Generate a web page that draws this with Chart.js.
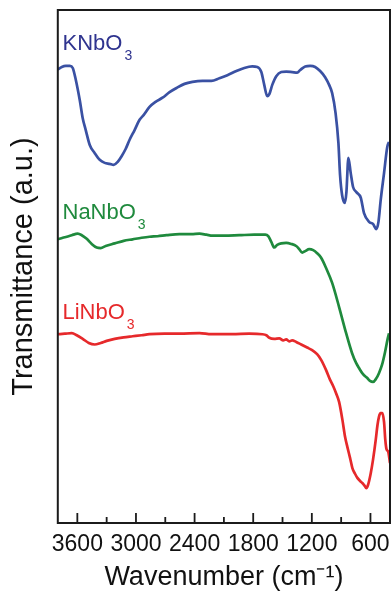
<!DOCTYPE html>
<html>
<head>
<meta charset="utf-8">
<script src="https://cdn.jsdelivr.net/npm/chart.js@4.4.1/dist/chart.umd.min.js"></script>
<style>
  html, body { margin: 0; padding: 0; background: #ffffff; }
  #wrap { width: 392px; height: 595px; }
</style>
</head>
<body>
<div id="wrap"><canvas id="c" width="392" height="595"></canvas></div>
<script>
// ---- Data (wavenumber in cm^-1, transmittance in a.u.) ----
const knbo3Wavenumber = [3800,3759,3718,3677,3647,3616,3575,3545,3514,3473,3422,3371,3320,3269,3228,3187,3147,3106,3065,3014,2963,2922,2861,2799,2728,2656,2585,2503,2422,2319,2228,2146,2064,1972,1891,1809,1758,1717,1687,1656,1635,1605,1564,1513,1462,1401,1350,1319,1268,1217,1166,1115,1064,1023,992,957,928,911,890,863,846,826,802,778,744,699,666,614,574,540,518,495,461,428,410];
const knbo3Transmittance = [88.4,88.9,89.1,89.1,88.7,86.4,82.4,78.9,76.6,73.7,72.1,70.8,70.2,70.0,69.8,70.4,71.5,72.9,74.7,76.6,78.6,79.5,81.1,82.1,82.9,84.0,84.8,85.6,86.0,86.2,86.2,86.7,87.3,88.1,88.7,89.0,88.9,87.9,85.4,83.2,83.6,85.4,87.1,87.9,88.0,87.9,87.8,88.3,89.0,89.1,88.9,88.1,86.9,85.4,83.8,79.9,74.1,67.8,63.9,62.4,64.5,71.2,68.2,65.5,64.5,63.4,60.4,58.7,58.3,57.3,58.7,63.0,68.2,73.3,74.3];

const nanbo3Wavenumber = [3800,3749,3708,3657,3596,3555,3504,3453,3402,3361,3310,3218,3126,3034,2942,2861,2779,2687,2554,2432,2350,2279,2217,2095,1942,1789,1676,1646,1615,1585,1554,1513,1462,1411,1360,1329,1299,1268,1227,1186,1146,1105,1054,992,921,849,788,747,717,676,635,605,574,543,513,482,451,426,410];
const nanbo3Transmittance = [55.3,55.6,55.8,56.1,56.4,56.1,55.4,54.4,53.7,53.6,54.0,54.5,55.0,55.3,55.6,55.8,55.9,56.1,56.3,56.3,56.4,56.2,56.0,56.0,56.1,56.2,56.2,55.9,54.8,53.7,54.2,54.5,54.6,54.4,54.0,53.4,52.7,53.0,53.4,53.2,52.6,51.7,49.7,46.8,42.1,37.0,33.1,31.2,30.2,29.0,28.3,27.7,27.5,28.1,29.2,30.8,33.3,35.7,37.0];

const linbo3Wavenumber = [3800,3728,3657,3606,3545,3483,3422,3361,3300,3218,3126,3034,2942,2861,2708,2554,2350,2228,2013,1840,1707,1666,1635,1585,1533,1493,1462,1431,1401,1360,1309,1248,1197,1146,1105,1054,1013,982,952,921,887,860,836,809,785,758,734,706,683,661,642,625,597,574,546,528,513,497,479,461,448,436,418,400];
const linbo3Transmittance = [36.8,36.9,37.0,36.6,35.9,35.1,34.8,35.1,35.5,35.9,36.2,36.4,36.6,36.8,36.9,36.9,37.0,36.8,36.8,36.9,36.8,36.6,36.1,35.9,36.0,35.6,35.8,35.4,35.6,35.3,34.8,34.2,33.7,32.9,31.8,29.8,27.9,26.7,25.3,23.6,20.1,16.8,14.8,12.7,10.7,9.6,8.8,8.2,7.8,7.3,6.8,7.4,9.7,12.3,16.2,19.1,20.7,21.4,21.4,19.7,16.2,14.4,13.9,11.7];

const seriesNames = ['KNbO', 'NaNbO', 'LiNbO'];
const seriesSubscripts = ['3', '3', '3'];
const majorTicks = [3600, 3000, 2400, 1800, 1200, 600];
const minorTicks = [3300, 2700, 2100, 1500, 900];

// ---- Styling ----
const FONT = '"Liberation Sans", Arial, Helvetica, sans-serif';
const lineColors = ['#3a51a3', '#1f8a3d', '#e6292b'];
const textColors = ['#2f348f', '#1f8a3d', '#e6292b'];
// label anchors: [wavenumber, transmittance baseline]
const labelAnchors = [[3752, 92.2], [3752, 59.3], [3752, 39.8]];

function toPoints(xs, ys) { return xs.map((x, i) => ({ x: x, y: ys[i] })); }

const datasets = [
  toPoints(knbo3Wavenumber, knbo3Transmittance),
  toPoints(nanbo3Wavenumber, nanbo3Transmittance),
  toPoints(linbo3Wavenumber, linbo3Transmittance)
].map((pts, i) => ({
  label: seriesNames[i] + seriesSubscripts[i],
  data: pts,
  borderColor: lineColors[i],
  borderWidth: 2.7,
  pointRadius: 0,
  fill: false,
  cubicInterpolationMode: 'monotone'
}));

const framePlugin = {
  id: 'frame',
  afterDraw(chart) {
    const { ctx, chartArea: a, scales } = chart;
    const xs = scales.x;
    ctx.save();
    ctx.strokeStyle = '#1b1b1b';
    ctx.lineWidth = 2;
    ctx.strokeRect(a.left, a.top, a.right - a.left, a.bottom - a.top);
    ctx.lineWidth = 1.8;
    ctx.beginPath();
    majorTicks.forEach(v => {
      const px = xs.getPixelForValue(v);
      ctx.moveTo(px, a.bottom);
      ctx.lineTo(px, a.bottom - 10);
    });
    minorTicks.forEach(v => {
      const px = xs.getPixelForValue(v);
      ctx.moveTo(px, a.bottom);
      ctx.lineTo(px, a.bottom - 6);
    });
    ctx.stroke();

    // tick labels
    ctx.fillStyle = '#111111';
    ctx.font = '23px ' + FONT;
    ctx.textAlign = 'center';
    ctx.textBaseline = 'middle';
    majorTicks.forEach(v => {
      ctx.fillText(String(v), xs.getPixelForValue(v), a.bottom + 22);
    });

    // series labels
    seriesNames.forEach((name, i) => {
      const px = xs.getPixelForValue(labelAnchors[i][0]);
      const py = scales.y.getPixelForValue(labelAnchors[i][1]);
      ctx.fillStyle = textColors[i];
      ctx.textBaseline = 'alphabetic';
      ctx.textAlign = 'left';
      ctx.font = '22px ' + FONT;
      ctx.fillText(name, px, py);
      const w = ctx.measureText(name).width;
      ctx.font = '14px ' + FONT;
      ctx.fillText(seriesSubscripts[i], px + w + 2, py + 10);
    });
    ctx.restore();
  }
};

new Chart(document.getElementById('c'), {
  type: 'line',
  data: { datasets: datasets },
  options: {
    responsive: false,
    animation: false,
    devicePixelRatio: 1,
    layout: { padding: { top: 10, right: 2, left: 4, bottom: 0 } },
    plugins: { legend: { display: false }, tooltip: { enabled: false } },
    scales: {
      x: {
        type: 'linear',
        reverse: true,
        min: 400,
        max: 3800,
        afterBuildTicks(scale) { scale.ticks = majorTicks.map(v => ({ value: v })); },
        grid: { display: false, drawTicks: false },
        border: { display: false },
        ticks: { display: false },
        title: {
          display: true,
          text: 'Wavenumber (cm\u207B\u00B9)',
          color: '#111111',
          font: { family: FONT, size: 27 },
          padding: { top: 38.6, bottom: 1 }
        }
      },
      y: {
        min: 0,
        max: 100,
        grid: { display: false, drawTicks: false },
        border: { display: false },
        ticks: { display: false },
        title: {
          display: true,
          text: 'Transmittance (a.u.)',
          color: '#111111',
          font: { family: FONT, size: 29 },
          padding: { top: 3, bottom: 16 }
        }
      }
    }
  },
  plugins: [framePlugin]
});
</script>
</body>
</html>
